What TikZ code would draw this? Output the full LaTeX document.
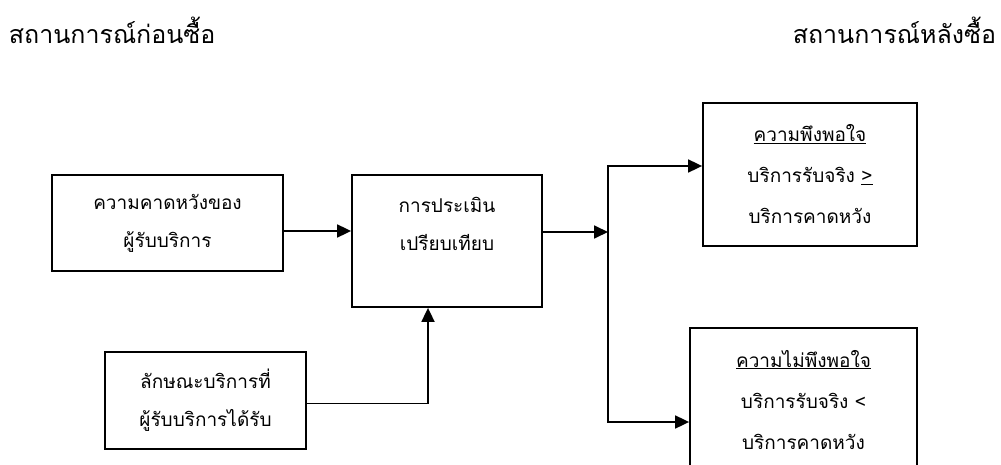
\documentclass[tikz,border=0pt]{standalone}
\usepackage{fontspec}
\newfontfamily\thaifont[Script=Thai]{Loma}
\usetikzlibrary{arrows.meta}

\begin{document}
\begin{tikzpicture}[x=1pt,y=-1pt,line width=1.8pt,
  box/.style={draw,line width=1.8pt,inner sep=0pt,align=center,font=\thaifont\fontsize{19}{38}\selectfont},
  txt/.style={inner sep=0pt,align=center,font=\thaifont\fontsize{19}{38}\selectfont},
  head/.style={inner sep=0pt,font=\thaifont\fontsize{25}{30}\selectfont},
  arr/.style={-{Triangle[length=14pt,width=13pt]}}]
\useasboundingbox (0,0) rectangle (1001,465);
\node[head,anchor=west](before)at(8,30){สถานการณ์ก่อนซื้อ};
\node[head,anchor=east](after)at(997,30){สถานการณ์หลังซื้อ};
\node[box,minimum width=231pt,minimum height=96pt](expect)at(167.5,223){ความคาดหวังของ\\ผู้รับบริการ};
\node[box,minimum width=190pt,minimum height=132pt](eval)at(447,241){};
\node[txt,anchor=north](evaltxt)at([yshift=-22pt]eval.north){การประเมิน\\เปรียบเทียบ};
\node[box,minimum width=201pt,minimum height=97pt](service)at(205.5,400.5){ลักษณะบริการที่\\ผู้รับบริการได้รับ};
\node[box,minimum width=214pt,minimum height=143pt,font=\thaifont\fontsize{19}{41}\selectfont](sat)at(810,174.5){\underline{ความพึงพอใจ}\\บริการรับจริง \underline{>}\\บริการคาดหวัง};
\node[box,minimum width=227pt,minimum height=188pt](unsat)at(803.5,422){};
\node[txt,anchor=north,font=\thaifont\fontsize{19}{41}\selectfont](unsattxt)at([yshift=-22pt]unsat.north){\underline{ความไม่พึงพอใจ}\\บริการรับจริง <\\บริการคาดหวัง};
\coordinate(expectout)at([yshift=-8pt]expect.east);
\coordinate(split)at(608,232);
\draw[arr](expectout)--(eval.west|-expectout);
\draw[arr]([yshift=-3pt]service.east)-|([xshift=-19pt]eval.south);
\draw[arr](eval.east|-split)--(split);
\draw[arr](split)|-([yshift=8.5pt]sat.west);
\draw[arr](split)|-(unsat.west);
\end{tikzpicture}
\end{document}
